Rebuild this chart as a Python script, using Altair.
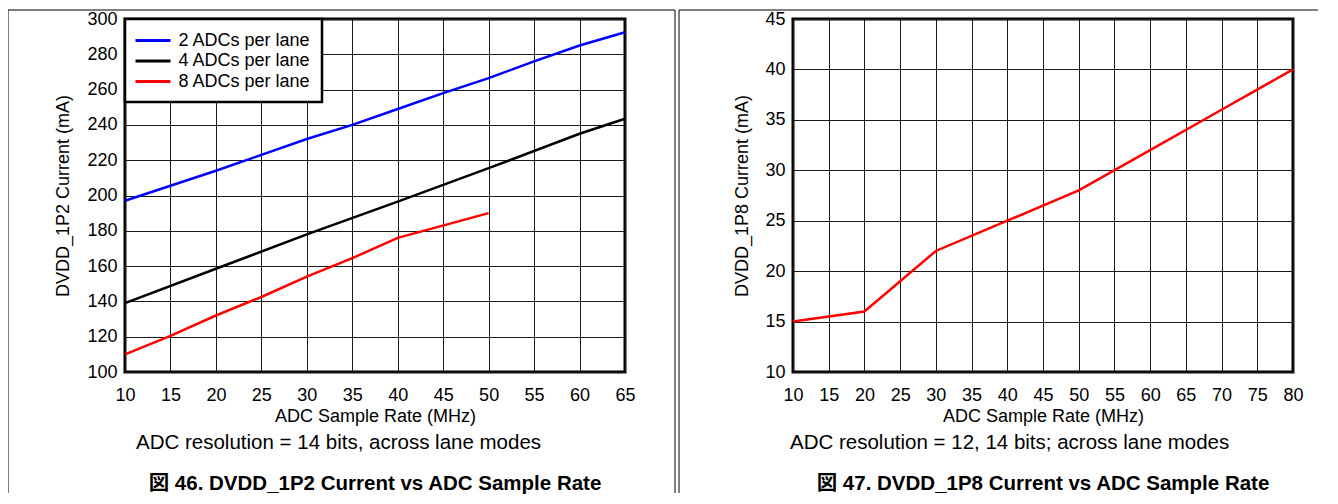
import altair as alt
import pandas as pd

FONT = "Liberation Sans"
CJK_FONT = "Liberation Sans, Noto Sans CJK JP"

# ---- Left chart data (DVDD_1P2) ----
series_names = ["2 ADCs per lane", "4 ADCs per lane", "8 ADCs per lane"]
series_colors = ["#0000FF", "#000000", "#FF0000"]

x_2adc = [10, 15, 20, 25, 30, 35, 40, 45, 50, 55, 60, 65]
y_2adc = [197, 205.5, 214, 223, 232, 240, 249, 258, 266.5, 276, 285, 292.5]
x_4adc = [10, 20, 30, 40, 50, 60, 65]
y_4adc = [139, 158.5, 178, 196.5, 215.5, 235, 243.5]
x_8adc = [10, 15, 20, 25, 30, 35, 40, 50]
y_8adc = [110, 120.5, 132, 142.5, 154, 164.5, 176, 190]

left_x_ticks = [10, 15, 20, 25, 30, 35, 40, 45, 50, 55, 60, 65]
left_y_ticks = [100, 120, 140, 160, 180, 200, 220, 240, 260, 280, 300]

# ---- Right chart data (DVDD_1P8) ----
x_1p8 = [10, 20, 30, 40, 50, 60, 70, 80]
y_1p8 = [15, 16, 22, 25, 28, 32, 36, 40]
right_x_ticks = [10, 15, 20, 25, 30, 35, 40, 45, 50, 55, 60, 65, 70, 75, 80]
right_y_ticks = [10, 15, 20, 25, 30, 35, 40, 45]

x_title = "ADC Sample Rate (MHz)"
left_y_title = "DVDD_1P2 Current (mA)"
right_y_title = "DVDD_1P8 Current (mA)"
left_note = "ADC resolution = 14 bits, across lane modes"
right_note = "ADC resolution = 12, 14 bits; across lane modes"
left_caption = "図 46. DVDD_1P2 Current vs ADC Sample Rate"
right_caption = "図 47. DVDD_1P8 Current vs ADC Sample Rate"

W, H = 500, 353

rows = []
for name, xs, ys in [(series_names[0], x_2adc, y_2adc),
                     (series_names[1], x_4adc, y_4adc),
                     (series_names[2], x_8adc, y_8adc)]:
    for xv, yv in zip(xs, ys):
        rows.append({"series": name, "rate": xv, "current": yv})
left_df = pd.DataFrame(rows)
right_df = pd.DataFrame({"rate": x_1p8, "current": y_1p8})


def x_enc(dom, ticks):
    return alt.X("rate:Q", scale=alt.Scale(domain=dom, nice=False, zero=False),
                 axis=alt.Axis(values=ticks, title=x_title, labelPadding=14,
                               titleY=35, titleBaseline="top",
                               labelFlush=False, labelOverlap=False))


def y_enc(dom, ticks, title, tx):
    return alt.Y("current:Q", scale=alt.Scale(domain=dom, nice=False, zero=False),
                 axis=alt.Axis(values=ticks, title=title, labelPadding=8,
                               titleX=tx, titleY=H / 2,
                               labelFlush=False, labelOverlap=False))


def text_layer(txt, x, y, align, size, weight="normal", font=FONT):
    return alt.Chart(pd.DataFrame({"t": [txt]})).mark_text(
        align=align, baseline="alphabetic", fontSize=size, fontWeight=weight,
        font=font, color="black"
    ).encode(text="t:N", x=alt.value(x), y=alt.value(y))


def vrule(x, y1, y2):
    return alt.Chart(pd.DataFrame({"a": [0]})).mark_rule(color="black", strokeWidth=1).encode(
        x=alt.value(x), y=alt.value(y1), y2=alt.value(y2))


def hrule(x1, x2, y):
    return alt.Chart(pd.DataFrame({"a": [0]})).mark_rule(color="black", strokeWidth=1).encode(
        x=alt.value(x1), x2=alt.value(x2), y=alt.value(y))


NOTE_Y = 430
CAP_Y = 471
RULE_END = 474

left_lines = alt.Chart(left_df).mark_line(strokeWidth=2.5).encode(
    x=x_enc([10, 65], left_x_ticks),
    y=y_enc([100, 300], left_y_ticks, left_y_title, -53),
    color=alt.Color("series:N",
                    scale=alt.Scale(domain=series_names, range=series_colors),
                    legend=alt.Legend(title=None, orient="top-left", offset=0,
                                      padding=11, strokeColor="black",
                                      fillColor="white",
                                      symbolType="M-1.9444,0H1.9444",
                                      symbolSize=324, symbolStrokeWidth=3,
                                      symbolOffset=6.5,
                                      labelFontSize=18, labelFont=FONT,
                                      labelColor="black", labelOffset=15,
                                      rowPadding=0.5, labelLimit=0)),
)

left = alt.layer(
    left_lines,
    text_layer(left_note, 11, NOTE_Y, "left", 20.5),
    text_layer(left_caption, W / 2, CAP_Y, "center", 20.5, "bold", CJK_FONT),
    vrule(-117, -9, RULE_END),
    vrule(550, -9, RULE_END),
    hrule(-117, 550, -9),
).properties(width=W, height=H)

right_lines = alt.Chart(right_df).mark_line(strokeWidth=2.5, color="#FF0000").encode(
    x=x_enc([10, 80], right_x_ticks),
    y=y_enc([10, 45], right_y_ticks, right_y_title, -42),
)

right = alt.layer(
    right_lines,
    text_layer(right_note, -3, NOTE_Y, "left", 20.5),
    text_layer(right_caption, W / 2, CAP_Y, "center", 20.5, "bold", CJK_FONT),
    vrule(-114, -9, RULE_END),
    hrule(-114, 525, -9),
).properties(width=W, height=H)

chart = alt.hconcat(left, right, spacing=0).properties(
    padding={"left": -2, "top": 0, "right": 0, "bottom": 0}
).configure_view(
    stroke="black", strokeWidth=3
).configure_axis(
    grid=True, gridColor="#1a1a1a", gridWidth=1, gridOpacity=1,
    domain=False, ticks=False,
    labelFont=FONT, labelFontSize=18, labelColor="black",
    titleFont=FONT, titleFontSize=18, titleFontWeight="normal", titleColor="black",
).configure_legend(strokeWidth=2.5)

chart.save("out.html", embed_options={"renderer": "svg", "actions": False})
